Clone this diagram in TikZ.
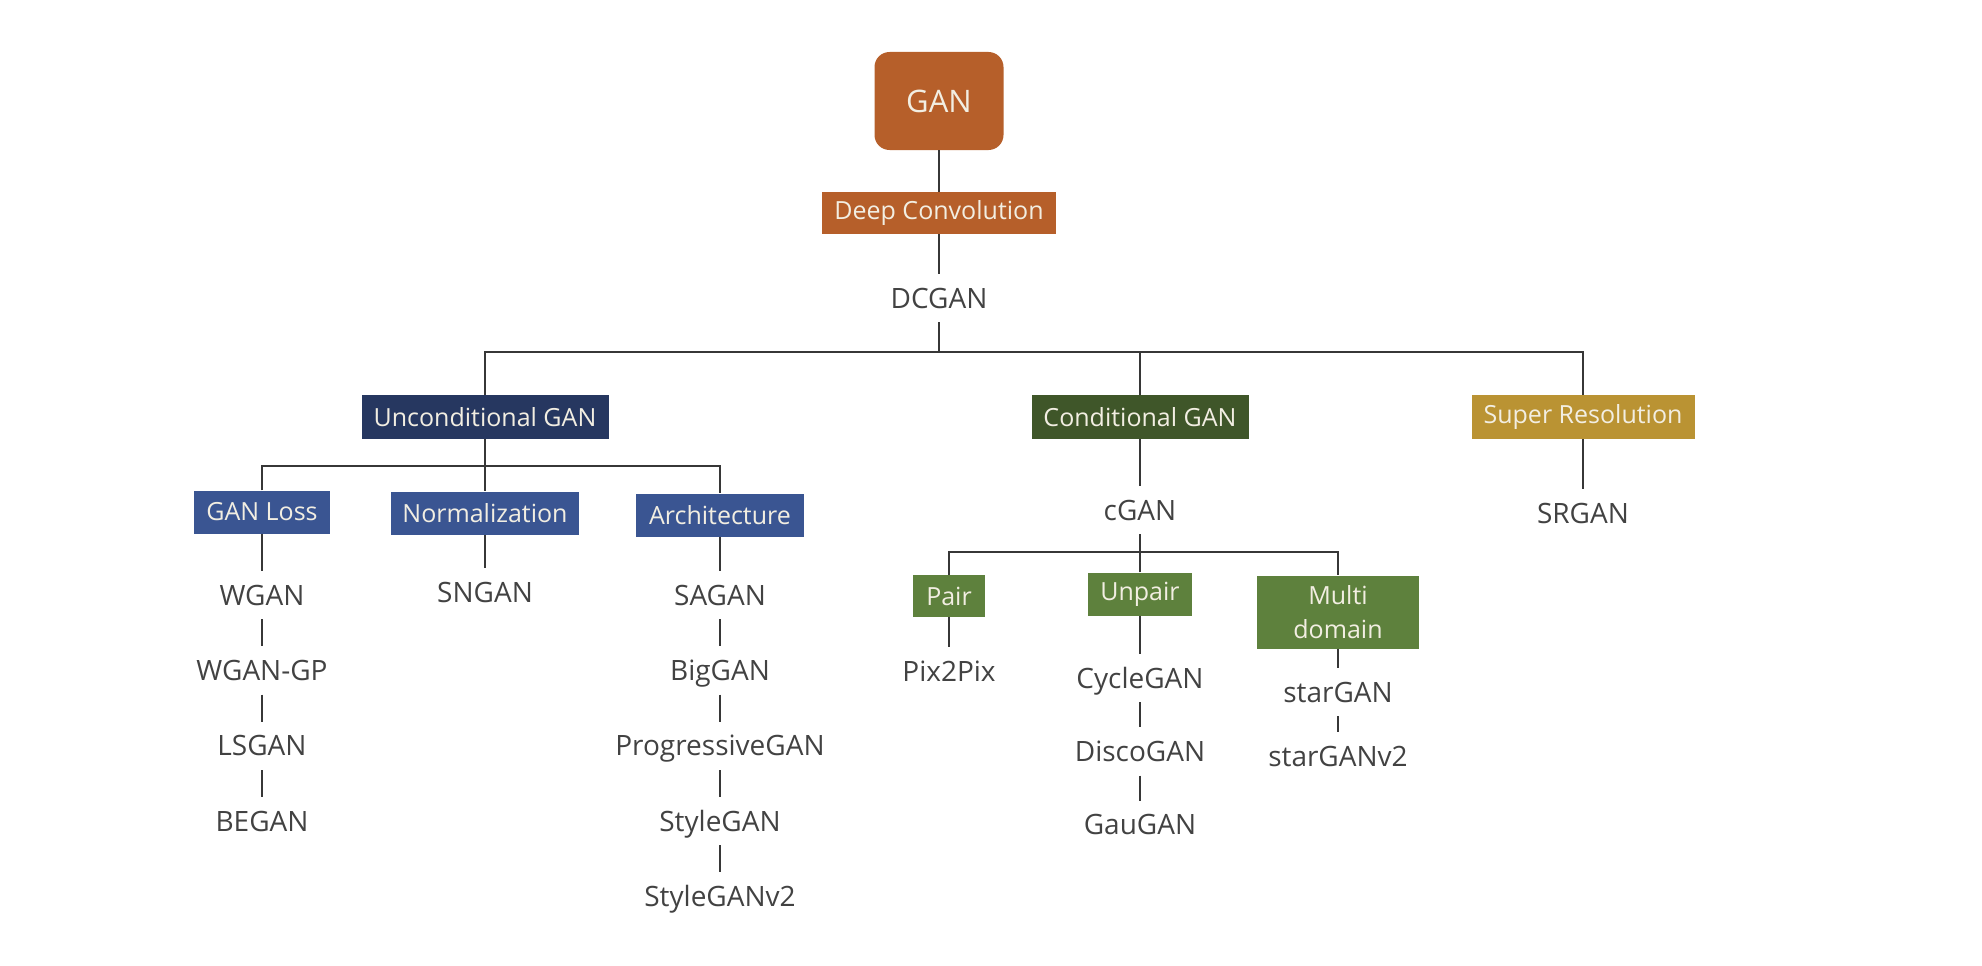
\documentclass[tikz,border=0pt]{standalone}
\usepackage{fontspec}
\setmainfont{Open Sans}
\usepackage{tikz}
\usetikzlibrary{positioning}

\definecolor{ganorange}{RGB}{182,95,42}
\definecolor{uncondblue}{RGB}{38,55,96}
\definecolor{subblue}{RGB}{58,85,146}
\definecolor{condgreen}{RGB}{63,86,41}
\definecolor{subgreen}{RGB}{94,129,61}
\definecolor{srgold}{RGB}{186,147,51}
\definecolor{boxtext}{RGB}{242,238,226}
\definecolor{leafgray}{RGB}{66,66,66}
\definecolor{linegray}{RGB}{55,55,55}

\begin{document}
\begin{tikzpicture}[
    x=1pt, y=-1pt,
    node distance=27pt,
    box/.style={
      rectangle, inner sep=0pt,
      text=boxtext, align=center,
      font=\fontsize{25}{29}\selectfont
    },
    leaf/.style={
      inner xsep=2pt, inner ysep=0pt,
      text=leafgray, text height=20pt, text depth=0pt,
      minimum height=48pt,
      font=\fontsize{28}{34}\selectfont
    },
    link/.style={draw=linegray, line width=1.6pt}
  ]

    \useasboundingbox (0,0) rectangle (1982,966);

    \node[box, fill=ganorange, rounded corners=15pt,
          minimum width=129pt, minimum height=98pt,
          font=\fontsize{31}{36}\selectfont] (gan) at (939,101) {GAN};
    \node[box, fill=ganorange, minimum width=234pt, minimum height=42pt]
      (deep) at (939,213) {Deep Convolution};
    \node[leaf] (dcgan) at (939,298) {DCGAN};

    \node[box, fill=uncondblue, minimum width=247pt, minimum height=44pt]
      (uncond) at (485,417) {Unconditional GAN};
    \node[box, fill=condgreen, minimum width=217pt, minimum height=44pt]
      (cond) at (1140,417) {Conditional GAN};
    \node[box, fill=srgold, minimum width=223pt, minimum height=44pt]
      (superres) at (1583,417) {Super Resolution};

    \node[box, fill=subblue, minimum width=136pt, minimum height=43pt]
      (loss) at (262,512) {GAN Loss};
    \node[box, fill=subblue, minimum width=188pt, minimum height=43pt]
      (norm) at (485,513) {Normalization};
    \node[box, fill=subblue, minimum width=168pt, minimum height=43pt]
      (arch) at (720,515) {Architecture};

    \node[leaf] (wgan) at (262,595) {WGAN};
    \node[leaf, below=of wgan] (wgangp) {WGAN-GP};
    \node[leaf, below=of wgangp] (lsgan) {LSGAN};
    \node[leaf, below=of lsgan] (began) {BEGAN};

    \node[leaf] (sngan) at (485,592) {SNGAN};

    \node[leaf] (sagan) at (720,595) {SAGAN};
    \node[leaf, below=of sagan] (biggan) {BigGAN};
    \node[leaf, below=of biggan] (proggan) {ProgressiveGAN};
    \node[leaf, below=of proggan] (stylegan) {StyleGAN};
    \node[leaf, below=of stylegan] (stylegantwo) {StyleGANv2};

    \node[leaf] (cgan) at (1140,510) {cGAN};
    \node[box, fill=subgreen, minimum width=72pt, minimum height=42pt]
      (pair) at (949,596) {Pair};
    \node[box, fill=subgreen, minimum width=104pt, minimum height=43pt]
      (unpair) at (1140,594) {Unpair};
    \node[box, fill=subgreen, minimum width=162pt, minimum height=73pt,
          font=\fontsize{25}{34}\selectfont]
      (multi) at (1338,612) {Multi\\domain};

    \node[leaf] (pixpix) at (949,671) {Pix2Pix};
    \node[leaf] (cyclegan) at (1140,678) {CycleGAN};
    \node[leaf, below=25pt of cyclegan] (discogan) {DiscoGAN};
    \node[leaf, below=25pt of discogan] (gaugan) {GauGAN};
    \node[leaf] (stargan) at (1338,692) {starGAN};
    \node[leaf, below=16pt of stargan] (stargantwo) {starGANv2};

    \node[leaf] (srgan) at (1583,513) {SRGAN};

    \coordinate (bar) at (939,352);
    \coordinate (ubar) at (485,466);
    \coordinate (cbar) at (1140,552);

    \draw[link] (gan) -- (deep);
    \draw[link] (deep) -- (dcgan);
    \draw[link] (dcgan) -- (bar);
    \draw[link] (uncond.north) |- (bar) -| (superres.north);
    \draw[link] (cond.north) -- (cond.north |- bar);

    \draw[link] (uncond) -- (norm);
    \draw[link] (loss.north) |- (ubar) -| (arch.north);
    \draw[link] (loss) -- (wgan);
    \draw[link] (wgan) -- (wgangp);
    \draw[link] (wgangp) -- (lsgan);
    \draw[link] (lsgan) -- (began);
    \draw[link] (norm) -- (sngan);
    \draw[link] (arch) -- (sagan);
    \draw[link] (sagan) -- (biggan);
    \draw[link] (biggan) -- (proggan);
    \draw[link] (proggan) -- (stylegan);
    \draw[link] (stylegan) -- (stylegantwo);

    \draw[link] (cond) -- (cgan);
    \draw[link] (cgan) -- (cbar);
    \draw[link] (pair.north) |- (cbar) -| (multi.north);
    \draw[link] (unpair.north) -- (unpair.north |- cbar);
    \draw[link] (pair) -- (pixpix);
    \draw[link] (unpair) -- (cyclegan);
    \draw[link] (cyclegan) -- (discogan);
    \draw[link] (discogan) -- (gaugan);
    \draw[link] (multi) -- (stargan);
    \draw[link] (stargan) -- (stargantwo);

    \draw[link] (superres) -- (srgan);
  \end{tikzpicture}
\end{document}
